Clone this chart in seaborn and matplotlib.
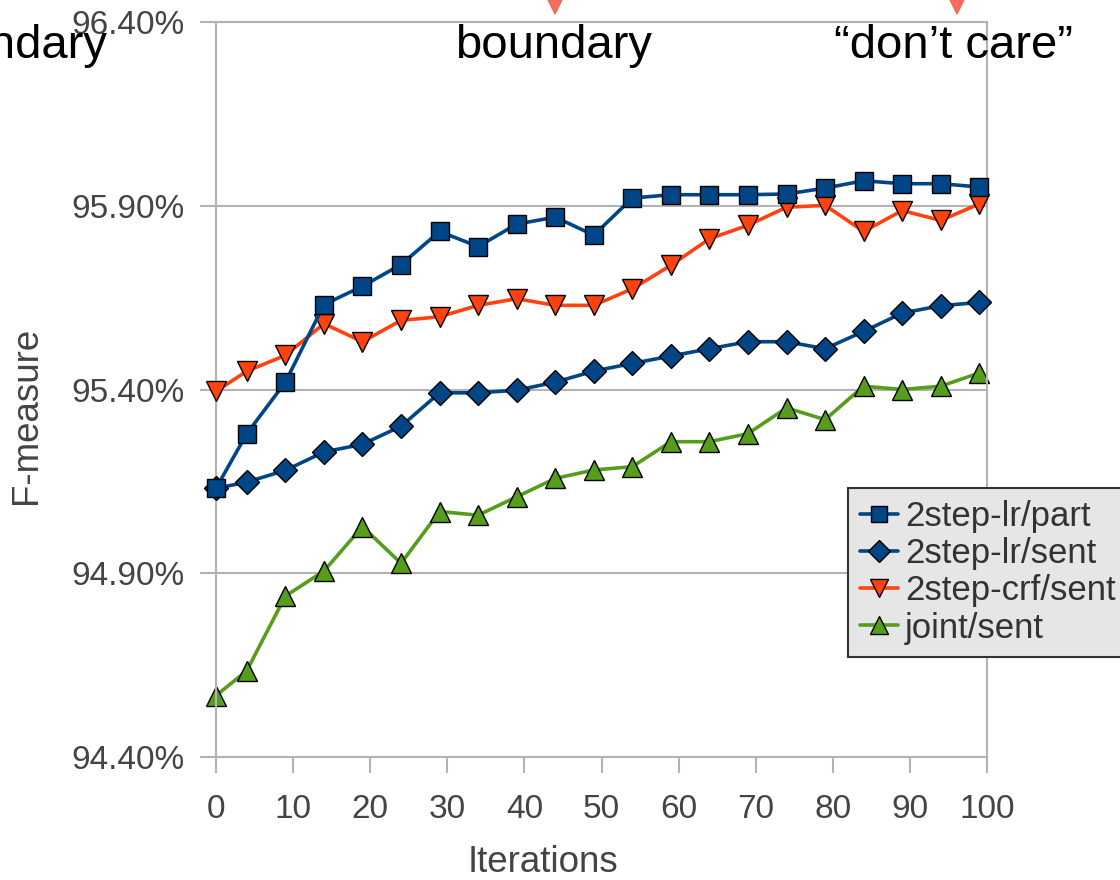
import matplotlib
matplotlib.use("Agg")
import matplotlib.pyplot as plt
import matplotlib.patches as mpatches
import numpy as np
import seaborn as sns
from matplotlib.ticker import FuncFormatter

iterations = [0, 4, 9, 14, 19, 24, 29, 34, 39, 44, 49, 54, 59, 64, 69, 74, 79, 84, 89, 94, 99]

lr_part = [95.131, 95.280, 95.420, 95.631, 95.681, 95.740, 95.830, 95.789, 95.850, 95.869,
           95.820, 95.921, 95.930, 95.930, 95.930, 95.932, 95.948, 95.968, 95.960, 95.960, 95.951]
lr_sent = [95.131, 95.148, 95.180, 95.230, 95.251, 95.300, 95.391, 95.391, 95.398, 95.420,
           95.450, 95.471, 95.491, 95.511, 95.530, 95.530, 95.511, 95.558, 95.608, 95.628, 95.637]
crf_sent = [95.395, 95.450, 95.493, 95.579, 95.530, 95.588, 95.598, 95.629, 95.647, 95.629,
            95.629, 95.674, 95.738, 95.810, 95.847, 95.896, 95.901, 95.830, 95.887, 95.860, 95.905]
joint_sent = [94.567, 94.635, 94.838, 94.906, 95.027, 94.927, 95.068, 95.058, 95.108, 95.158,
              95.181, 95.190, 95.258, 95.258, 95.280, 95.350, 95.318, 95.409, 95.400, 95.409, 95.445]

series_labels = ["2step-lr/part", "2step-lr/sent", "2step-crf/sent", "joint/sent"]
y_ticks = [94.40, 94.90, 95.40, 95.90, 96.40]
x_ticks = [0, 10, 20, 30, 40, 50, 60, 70, 80, 90, 100]

sns.set_theme(style="white")
plt.rcParams["font.family"] = ["Liberation Sans", "DejaVu Sans"]

W, H = 1120, 880
fig, ax = plt.subplots(figsize=(W / 100, H / 100), dpi=100)
fig.subplots_adjust(left=216 / W, right=987 / W, top=1 - 22 / H, bottom=1 - 757 / H)

# series: values, color, marker, markersize, draw order
styles = [
    (lr_part, "#004586", "s", 13.5, 5),
    (lr_sent, "#004586", "D", 12, 4),
    (crf_sent, "#ff420e", "v", 14, 3),
    (joint_sent, "#579d1c", "^", 14, 2),
]

handles = []
for (vals, color, marker, ms, z), label in zip(styles, series_labels):
    sns.lineplot(
        x=iterations, y=vals, ax=ax, color=color, marker=marker, markersize=ms,
        markeredgecolor="black", markeredgewidth=1.0, linewidth=2.6,
        label=label, zorder=z, clip_on=False, legend=False,
    )
    handles.append(ax.lines[-1])

ax.set_xlim(0, 100)
ax.set_ylim(94.40, 96.40)
ax.set_xticks(x_ticks)
ax.set_yticks(y_ticks)
ax.yaxis.set_major_formatter(FuncFormatter(lambda v, p: f"{v:.2f}%"))

grey = "#b3b3b3"
ax.yaxis.grid(True, color=grey, linewidth=1.5)
ax.xaxis.grid(False)
for sp in ax.spines.values():
    sp.set_visible(True)
    sp.set_color(grey)
    sp.set_linewidth(1.5)

ax.tick_params(axis="both", direction="out", length=11.5, width=1.5, color=grey,
               labelsize=24, labelcolor="#444444", bottom=True, left=True)
ax.tick_params(axis="y", pad=11)
ax.tick_params(axis="x", pad=15)

ax.set_xlabel("Iterations", fontsize=26.5, color="#444444")
ax.set_ylabel("F-measure", fontsize=26.5, color="#444444")
ax.xaxis.set_label_coords((543 - 216) / 771, -(862 - 757) / 735)
ax.yaxis.set_label_coords((27 - 216) / 771, 1 - (415 - 22) / 735)
ax.xaxis.label.set_va("center")
ax.yaxis.label.set_va("center")

leg = ax.legend(
    handles, series_labels, loc="upper left",
    bbox_to_anchor=(848 / W, 1 - 488 / H), bbox_transform=fig.transFigure,
    fontsize=25, frameon=True, fancybox=False, facecolor="#e6e6e6",
    edgecolor="#333333", framealpha=1, handlelength=1.1, handletextpad=0.2,
    labelspacing=0.12, borderpad=0.35, borderaxespad=0, markerscale=0.9,
)
leg.get_frame().set_linewidth(1.5)
for t in leg.get_texts():
    t.set_color("#333333")

# slide overlay text and arrow tips
fig.text(107 / W, 1 - 58 / H, "boundary", fontsize=34, color="black",
         ha="right", va="baseline")
fig.text(554 / W, 1 - 58 / H, "boundary", fontsize=34, color="black",
         ha="center", va="baseline")
fig.text(954 / W, 1 - 58 / H, "\u201cdon\u2019t care\u201d", fontsize=34, color="black",
         ha="center", va="baseline")
for cx in (555, 957):
    tri = mpatches.Polygon(
        [((cx - 7) / W, 1.0), ((cx + 7) / W, 1.0), (cx / W, 1 - 14 / H)],
        closed=True, transform=fig.transFigure, color="#ef6f5c", zorder=10,
    )
    fig.patches.append(tri)

fig.savefig("out.png", dpi=100)
plt.close(fig)
